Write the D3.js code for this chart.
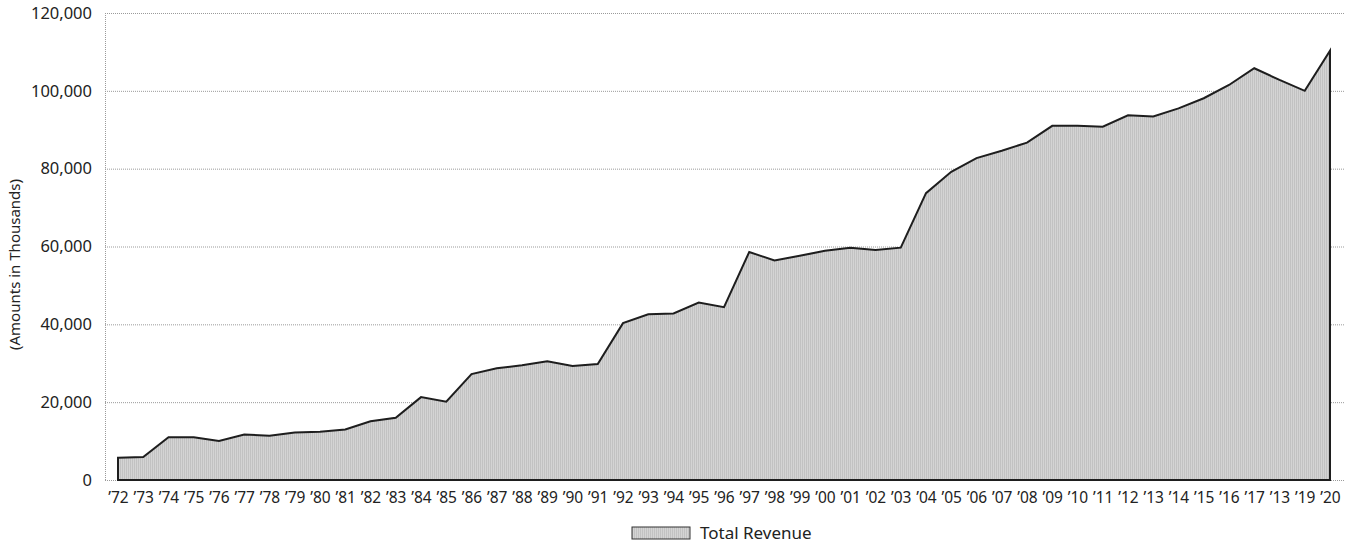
<!DOCTYPE html>
<html lang='en'>
  <head>
    <meta charset='utf-8'>
    <title>Total Revenue</title>
    <script src="https://d3js.org/d3.v7.min.js" charset='utf-8'></script>
    <style type="text/css">
      body { margin: 0; background: #fff; }
      svg { display: block; }
      text { font-family: "Noto Sans", "Open Sans", sans-serif; fill: #222; }
      .grid line { stroke: #9a9a9a; stroke-width: 1px; stroke-dasharray: 1,1; }
      .axis path, .axis line { display: none; }
    </style>
  </head>
  <body>
    <script type="text/javascript">
      // year labels as printed (the 2018 label reads '13 in the original)
      var yearLabels = ['’72','’73','’74','’75','’76','’77','’78','’79','’80','’81',
        '’82','’83','’84','’85','’86','’87','’88','’89','’90','’91',
        '’92','’93','’94','’95','’96','’97','’98','’99','’00','’01',
        '’02','’03','’04','’05','’06','’07','’08','’09','’10','’11',
        '’12','’13','’14','’15','’16','’17','’13','’19','’20'];
      // total revenue, thousands
      var revenue = [5700, 5900, 11000, 11000, 10000, 11700, 11400, 12200, 12400, 13000,
        15100, 16000, 21300, 20100, 27200, 28700, 29500, 30500, 29300, 29800,
        40300, 42600, 42800, 45600, 44400, 58600, 56400, 57600, 58900, 59700,
        59100, 59700, 73700, 79200, 82700, 84600, 86700, 91000, 91000, 90800,
        93700, 93400, 95500, 98100, 101500, 105800, 102800, 100000, 110300];
      var yTicks = [0, 20000, 40000, 60000, 80000, 100000, 120000];

      var width = 1346, height = 543;
      var plotLeft = 105, plotRight = 1345, plotTop = 13, plotBottom = 480;

      var svg = d3.select('body').append('svg')
        .attr('width', width)
        .attr('height', height);

      var x = d3.scaleLinear().domain([0, revenue.length - 1]).range([118, 1330]);
      var y = d3.scaleLinear().domain([0, 120000]).range([plotBottom, plotTop]);

      // striped fill like the printed screen tone
      var pat = svg.append('defs').append('pattern')
        .attr('id', 'tone')
        .attr('patternUnits', 'userSpaceOnUse')
        .attr('width', 2).attr('height', 2);
      pat.append('rect').attr('width', 2).attr('height', 2).attr('fill', '#d4d4d4');
      pat.append('rect').attr('width', 1).attr('height', 2).attr('fill', '#c2c2c2');

      // gridlines
      svg.append('g').attr('class', 'grid')
        .selectAll('line').data(yTicks).enter().append('line')
        .attr('x1', plotLeft).attr('x2', plotRight)
        .attr('y1', function(d) { return y(d) + 0.5; })
        .attr('y2', function(d) { return y(d) + 0.5; });
      svg.append('g').attr('class', 'grid').append('line')
        .attr('x1', plotLeft + 0.5).attr('x2', plotLeft + 0.5)
        .attr('y1', plotTop).attr('y2', plotBottom);

      // area
      var area = d3.area()
        .x(function(d, i) { return x(i); })
        .y0(y(0))
        .y1(function(d) { return y(d); });
      svg.append('path')
        .datum(revenue)
        .attr('d', area)
        .attr('fill', 'url(#tone)')
        .attr('stroke', '#1e1e1e')
        .attr('stroke-width', 2)
        .attr('stroke-linejoin', 'miter');

      // y axis labels
      svg.append('g').attr('class', 'axis')
        .attr('transform', 'translate(' + plotLeft + ',0)')
        .call(d3.axisLeft(y).tickValues(yTicks).tickSize(0).tickPadding(13)
          .tickFormat(d3.format(',')))
        .selectAll('text')
        .style('font-size', '16.5px')
        .style('fill', '#222');

      // x axis labels
      svg.append('g').attr('class', 'axis')
        .attr('transform', 'translate(0,' + plotBottom + ')')
        .call(d3.axisBottom(x).tickValues(d3.range(revenue.length)).tickSize(0).tickPadding(12)
          .tickFormat(function(i) { return yearLabels[i]; }))
        .selectAll('text')
        .style('font-size', '15.5px')
        .style('fill', '#222');

      // y axis title
      svg.append('text')
        .attr('transform', 'translate(20,' + ((plotTop + plotBottom) / 2 + 18) + ') rotate(-90)')
        .attr('text-anchor', 'middle')
        .style('font-size', '15px')
        .text('(Amounts in Thousands)');

      // legend
      var legend = svg.append('g').attr('transform', 'translate(632,527)');
      legend.append('rect')
        .attr('width', 58).attr('height', 12)
        .attr('fill', 'url(#tone)')
        .attr('stroke', '#333').attr('stroke-width', 1);
      legend.append('text')
        .attr('x', 68).attr('y', 12)
        .style('font-size', '17px')
        .text('Total Revenue');
    </script>
  </body>
</html>
